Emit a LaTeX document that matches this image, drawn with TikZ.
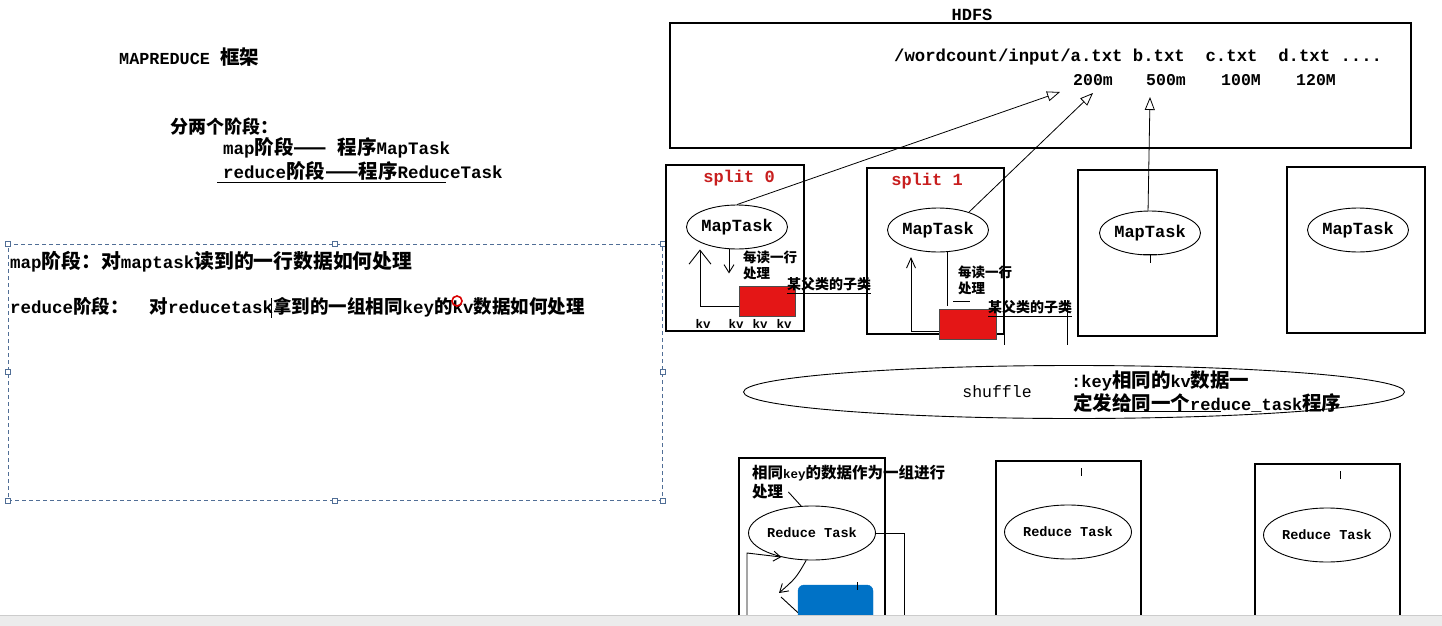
\documentclass[tikz,border=0pt]{standalone}
\usepackage{fontspec}
\setmainfont{Liberation Mono}
\newfontfamily\cjk{Noto Sans CJK SC}
\usetikzlibrary{shapes.geometric,arrows.meta}
\newcommand{\fs}[1]{\fontsize{#1}{#1}\selectfont}
\def\zhsize{19.5}
\newcommand{\zh}[1]{{\cjk\fontsize{\zhsize}{\zhsize}\selectfont #1}}
\definecolor{splitred}{RGB}{200,30,30}
\definecolor{boxred}{RGB}{228,22,22}
\definecolor{taskblue}{RGB}{0,114,198}
\definecolor{selblue}{RGB}{80,110,150}
\definecolor{barg}{RGB}{236,236,236}
\tikzset{
  txt/.style={inner sep=0pt, anchor=west, font=\bfseries\fs{16.5}},
  ctxt/.style={inner sep=0pt, font=\bfseries\fs{16.5}},
  frame/.style={draw, line width=1.1pt, inner sep=0pt},
  mapell/.style={draw, ellipse, line width=0.9pt, minimum width=98pt, minimum height=44pt, inner sep=0pt, font=\bfseries\fs{17}},
  redell/.style={draw, ellipse, line width=0.9pt, minimum width=112pt, minimum height=54pt, inner sep=0pt, font=\bfseries\fs{13.6}},
  redbox/.style={draw=black!70, fill=boxred, line width=0.8pt, inner sep=0pt, minimum width=56pt, minimum height=30pt},
  conn/.style={line width=0.9pt},
  tri/.style={line width=0.8pt, -{Triangle[open,length=13pt,width=10pt]}},
  handle/.style={draw=selblue, fill=white, line width=0.6pt, inner sep=0pt, minimum size=5pt},
}
\begin{document}
\begin{tikzpicture}[x=1pt,y=-1pt]
\useasboundingbox (0,0) rectangle (1442,626);
\fill[white] (0,0) rectangle (1442,626);

% ---------- left text ----------
\node[txt, font=\bfseries\fs{16.8}\def\zhsize{19.5}] (title) at (119,57) {MAPREDUCE \zh{框架}};
\node[txt, font=\bfseries\fs{16}\def\zhsize{18}] (two) at (170,127) {\zh{分两个阶段：}};
\node[txt, font=\bfseries\fs{17.5}\def\zhsize{19.5}] (mapl) at (223,148) {map\zh{阶段——} \zh{程序}MapTask};
\node[txt, font=\bfseries\fs{17.5}\def\zhsize{19.5}] (redl) at (223,171) {reduce\zh{阶段——程序}ReduceTask};
\draw[line width=0.9pt] (217,182) -- (446,182);

% selection box
\node[draw=selblue, dashed, line width=0.8pt, dash pattern=on 4pt off 3pt, minimum width=654pt, minimum height=256pt, inner sep=0pt] (sel) at (335,372) {};
\foreach \p/\n in {north west/a, north/b, north east/c, west/d, east/e, south west/f, south/g, south east/h}
  \node[handle] (h\n) at (sel.\p) {};
\node[txt, font=\bfseries\fs{17.5}\def\zhsize{19.8}] (mapdesc) at (10,262) {map\zh{阶段：对}maptask\zh{读到的一行数据如何处理}};
\node[txt, font=\bfseries\fs{17.5}\def\zhsize{18.5}] (reddesc) at (10,307) {reduce\zh{阶段：}\ \ \zh{对}reducetask\zh{拿到的一组相同}key\zh{的}kv\zh{数据如何处理}};
\draw[line width=0.6pt] (271,298) -- (271,318);
\draw[red!85!black, line width=1.6pt] (457,301) circle[radius=5];

% ---------- HDFS ----------
\node[ctxt, font=\bfseries\fs{17}] (hdfslabel) at (972,15) {HDFS};
\node[frame, minimum width=741pt, minimum height=125pt] (hdfs) at (1040.5,85.5) {};
\node[txt, font=\bfseries\fs{17.3}] (files) at (894,57) {/wordcount/input/a.txt b.txt\ \ c.txt\ \ d.txt ....};
\node[txt, font=\bfseries\fs{16.5}] (sz1) at (1073,80) {200m};
\node[txt, font=\bfseries\fs{16.5}] (sz2) at (1146,80) {500m};
\node[txt, font=\bfseries\fs{16.5}] (sz3) at (1221,80) {100M};
\node[txt, font=\bfseries\fs{16.5}] (sz4) at (1296,80) {120M};
\coordinate (t0) at (1060,92);
\coordinate (t1) at (1093,93);
\coordinate (t2) at (1150,97);

% ---------- map splits ----------
\node[frame, minimum width=138pt, minimum height=166pt] (s0) at (735,248) {};
\node[frame, minimum width=137pt, minimum height=166pt] (s1) at (935.5,251) {};
\node[frame, minimum width=139pt, minimum height=166pt] (s2) at (1147.5,253) {};
\node[frame, minimum width=138pt, minimum height=166pt] (s3) at (1356,250) {};

\node[ctxt, text=splitred, font=\bfseries\fs{17}] (sp0) at (739,178) {split 0};
\node[ctxt, text=splitred, font=\bfseries\fs{17}] (sp1) at (927,181) {split 1};

\node[mapell] (m0) at (737,227) {MapTask};
\node[mapell] (m1) at (938,230) {MapTask};
\node[mapell] (m2) at (1150,233) {MapTask};
\node[mapell] (m3) at (1358,230) {MapTask};

\draw[tri] (m0.north) -- (t0);
\draw[tri] (m1.30) -- (t1);
\draw[tri] (m2.95) -- (t2);

% split 0 internals
\node[redbox] (r0) at (767,301) {};
\coordinate (k0) at (700,306);
\draw[conn, -{Straight Barb[length=14pt,width=22pt]}] ([yshift=-5pt]r0.west) -- (k0) -- (k0 |- m0.south);
\draw[conn, -{Straight Barb[length=8pt,width=10pt]}] ([xshift=-8pt]m0.south) -- ++(0,24);
\node[txt, font=\bfseries\def\zhsize{13.5}] (rd0) at (743,257) {\zh{每读一行}};
\node[txt, font=\bfseries\def\zhsize{13.5}] (pr0) at (743,273) {\zh{处理}};
\node[txt, font=\bfseries\def\zhsize{14}] (sub0) at (787,284) {\zh{某父类的子类}};
\draw[conn] ([yshift=-3pt]sub0.south west) -- ([yshift=-3pt]sub0.south east);
\node[ctxt, font=\bfseries\fs{12.5}] (kv1) at (703,324) {kv};
\node[ctxt, font=\bfseries\fs{12.5}] (kv2) at (736,324) {kv};
\node[ctxt, font=\bfseries\fs{12.5}] (kv3) at (760,324) {kv};
\node[ctxt, font=\bfseries\fs{12.5}] (kv4) at (784,324) {kv};

% split 1 internals
\node[redbox, minimum width=57pt] (r1) at (967.5,324) {};
\coordinate (k1) at (911,331);
\coordinate (k1t) at (911,257);
\draw[conn, -{Straight Barb[length=10pt,width=9pt]}] ([yshift=-7pt]r1.west) -- (k1) -- (k1t);
\draw[conn] ([xshift=9pt]m1.south) -- ++(0,54);
\draw[conn] (953,301) -- (970,301);
\node[txt, font=\bfseries\def\zhsize{13.5}] (rd1) at (958,272) {\zh{每读一行}};
\node[txt, font=\bfseries\def\zhsize{13.5}] (pr1) at (958,288) {\zh{处理}};
\node[txt, font=\bfseries\def\zhsize{14}] (sub1) at (988,307) {\zh{某父类的子类}};
\draw[conn] ([yshift=-3pt]sub1.south west) -- ([yshift=-3pt]sub1.south east);
\draw[conn] (1067,300) -- (1067,345);
\draw[conn] (s1.south east) -- ++(0,10);

% split 2 mark
\draw[conn] (m2.south) -- ++(0,8);
\draw[conn] (1143,254) -- (1157,254);

% ---------- shuffle ----------
\node[draw, ellipse, line width=0.9pt, minimum width=661pt, minimum height=53pt, inner sep=0pt] (sh) at (1074,392) {};
\node[ctxt, font=\fs{16.5}] (shl) at (997,392) {shuffle};
\node[txt, font=\bfseries\fs{17}\def\zhsize{19.5}] (shd1) at (1071,381) {:key\zh{相同的}kv\zh{数据一}};
\node[txt, font=\bfseries\fs{17}\def\zhsize{19.5}] (shd2) at (1073,403) {\zh{定发给同一个}reduce\_task\zh{程序}};
\draw[conn] (1124,411) -- (1221,411);

% ---------- reduce ----------
\node[frame, minimum width=146pt, minimum height=167pt] (rb0) at (812,541.5) {};
\node[frame, minimum width=145pt, minimum height=164pt] (rb1) at (1068.5,543) {};
\node[frame, minimum width=145pt, minimum height=161pt] (rb2) at (1327.5,544.5) {};

\node[redell] (re0) at (812,533) {Reduce Task};
\node[redell] (re1) at (1068,532) {Reduce Task};
\node[redell] (re2) at (1327,535) {Reduce Task};

\node[txt, font=\bfseries\fs{12.5}\def\zhsize{15.5}] (grp) at (752,473) {\zh{相同}key\zh{的数据作为一组进行}};
\node[txt, font=\bfseries\def\zhsize{15.5}] (grp2) at (752,492) {\zh{处理}};
\draw[conn] ([xshift=5pt]grp2.east) -- (re0.112);

\node[draw=taskblue, fill=taskblue, rounded corners=6pt, minimum width=75pt, minimum height=55pt, inner sep=0pt] (blue) at (835.5,612.5) {};
\coordinate (rr) at (904,533);
\draw[conn] (re0.east) -- (rr) -- (rr |- 0,626);
\coordinate (lb) at (747,553);
\draw[conn, -{Straight Barb[length=7pt,width=10pt]}] (lb |- 0,626) -- (lb) -- (re0.218);
\coordinate (cv) at (779,593);
\draw[conn, -{Straight Barb[length=8pt,width=10pt]}] (re0.258) .. controls (796,578) .. (cv);
\draw[conn] ([shift={(2pt,-4pt)}]cv) -- (blue.west);
\draw[conn] (857,582) -- (857,590);
\draw[conn] (1081,468) -- (1081,476);
\draw[conn] (1340,471) -- (1340,479);

% bottom bar
\fill[barg] (0,615) rectangle (1442,626);
\draw[black!20, line width=0.6pt] (0,615) -- (1442,615);
\end{tikzpicture}
\end{document}
